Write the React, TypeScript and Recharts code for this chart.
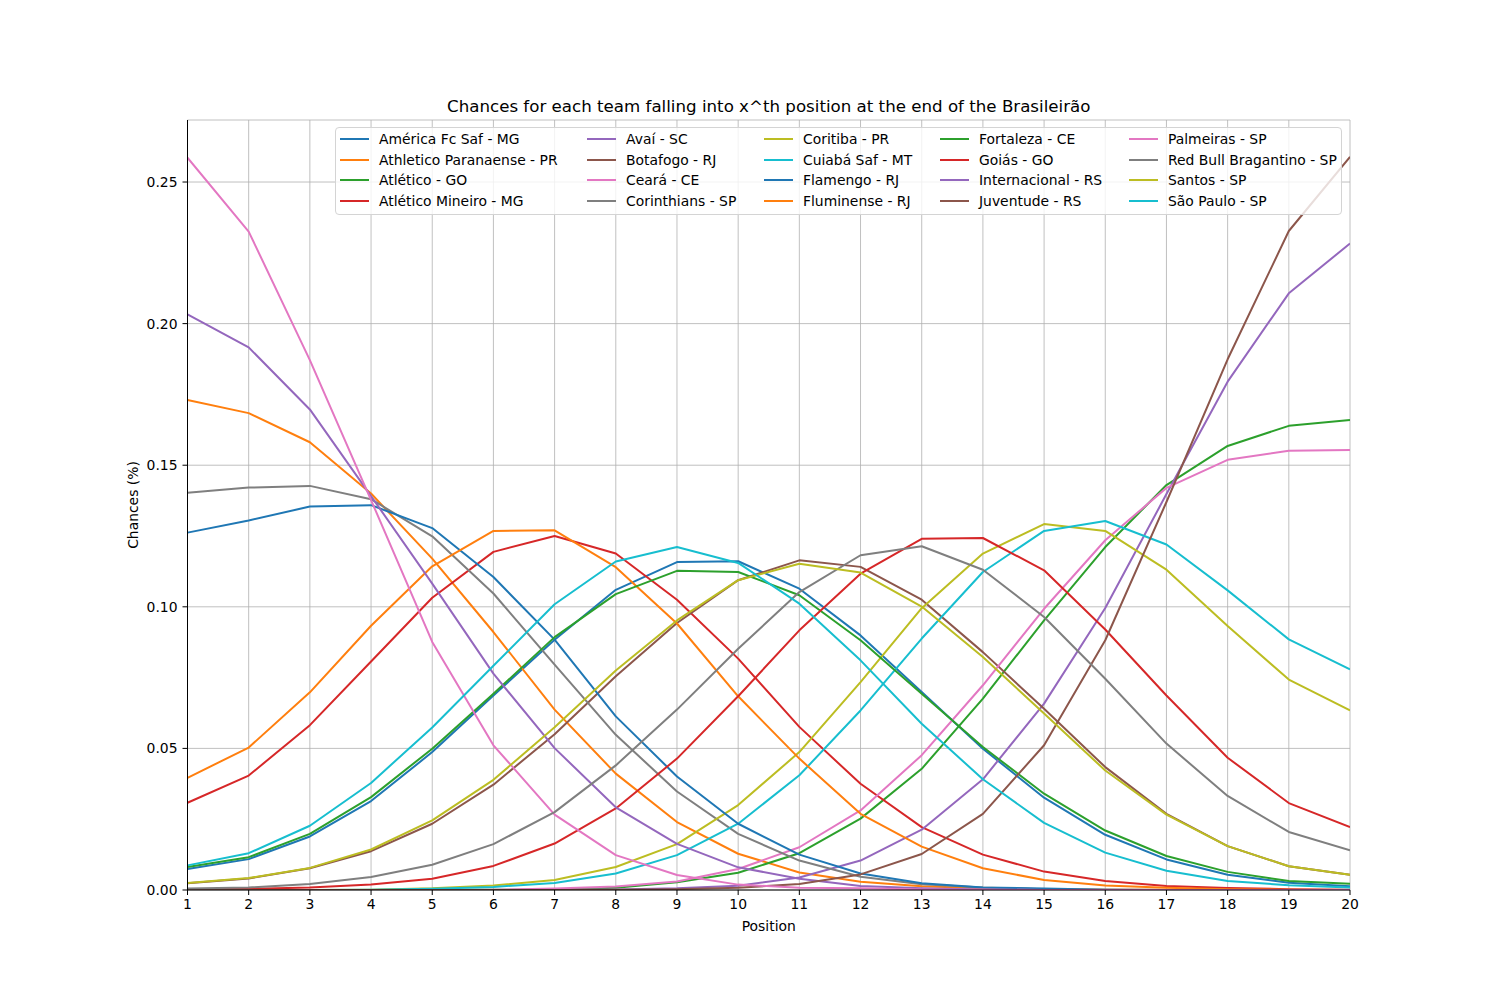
import React from 'react';
import { LineChart, Line, XAxis, YAxis, CartesianGrid, Legend } from 'recharts';

const positions = [1, 2, 3, 4, 5, 6, 7, 8, 9, 10, 11, 12, 13, 14, 15, 16, 17, 18, 19, 20];
const yTicks = [0, 0.05, 0.1, 0.15, 0.2, 0.25];

const teamNames = [
  'América Fc Saf - MG',
  'Athletico Paranaense - PR',
  'Atlético - GO',
  'Atlético Mineiro - MG',
  'Avaí - SC',
  'Botafogo - RJ',
  'Ceará - CE',
  'Corinthians - SP',
  'Coritiba - PR',
  'Cuiabá Saf - MT',
  'Flamengo - RJ',
  'Fluminense - RJ',
  'Fortaleza - CE',
  'Goiás - GO',
  'Internacional - RS',
  'Juventude - RS',
  'Palmeiras - SP',
  'Red Bull Bragantino - SP',
  'Santos - SP',
  'São Paulo - SP',
];

const teamColors = [
  '#1f77b4', '#ff7f0e', '#2ca02c', '#d62728', '#9467bd',
  '#8c564b', '#e377c2', '#7f7f7f', '#bcbd22', '#17becf',
  '#1f77b4', '#ff7f0e', '#2ca02c', '#d62728', '#9467bd',
  '#8c564b', '#e377c2', '#7f7f7f', '#bcbd22', '#17becf',
];

const americaMG = [0.0074, 0.0109, 0.0189, 0.0314, 0.0487, 0.0687, 0.0884, 0.1060, 0.1158, 0.1161, 0.1064, 0.0899, 0.0699, 0.0499, 0.0326, 0.0195, 0.0108, 0.0054, 0.0026, 0.0013];
const athleticoPR = [0.1730, 0.1684, 0.1581, 0.1400, 0.1170, 0.0911, 0.0637, 0.0411, 0.0240, 0.0128, 0.0062, 0.0029, 0.0013, 0.0006, 0.0003, 0.0001, 0.0001, 0.0000, 0.0000, 0.0000];
const atleticoGO = [0.0000, 0.0000, 0.0000, 0.0000, 0.0001, 0.0001, 0.0002, 0.0008, 0.0027, 0.0061, 0.0130, 0.0252, 0.0428, 0.0676, 0.0952, 0.1211, 0.1430, 0.1568, 0.1639, 0.1660];
const atleticoMG = [0.0308, 0.0404, 0.0582, 0.0807, 0.1032, 0.1194, 0.1250, 0.1188, 0.1025, 0.0817, 0.0576, 0.0375, 0.0222, 0.0125, 0.0065, 0.0032, 0.0014, 0.0007, 0.0003, 0.0001];
const avaiSC = [0.0000, 0.0000, 0.0000, 0.0000, 0.0000, 0.0000, 0.0001, 0.0002, 0.0006, 0.0015, 0.0044, 0.0104, 0.0213, 0.0391, 0.0658, 0.0996, 0.1398, 0.1795, 0.2107, 0.2283];
const botafogoRJ = [0.0024, 0.0041, 0.0077, 0.0137, 0.0234, 0.0372, 0.0550, 0.0755, 0.0943, 0.1094, 0.1164, 0.1141, 0.1025, 0.0840, 0.0640, 0.0434, 0.0269, 0.0155, 0.0084, 0.0054];
const cearaCE = [0.0000, 0.0000, 0.0000, 0.0000, 0.0000, 0.0001, 0.0005, 0.0012, 0.0030, 0.0074, 0.0151, 0.0281, 0.0476, 0.0723, 0.0993, 0.1235, 0.1420, 0.1519, 0.1551, 0.1554];
const corinthiansSP = [0.1403, 0.1421, 0.1427, 0.1380, 0.1249, 0.1047, 0.0796, 0.0548, 0.0348, 0.0198, 0.0104, 0.0047, 0.0020, 0.0009, 0.0003, 0.0001, 0.0000, 0.0000, 0.0000, 0.0000];
const coritibaPR = [0.0000, 0.0000, 0.0000, 0.0001, 0.0006, 0.0016, 0.0035, 0.0081, 0.0162, 0.0300, 0.0487, 0.0734, 0.0995, 0.1188, 0.1292, 0.1268, 0.1131, 0.0932, 0.0743, 0.0634];
const cuiabaMT = [0.0000, 0.0000, 0.0000, 0.0001, 0.0004, 0.0011, 0.0025, 0.0058, 0.0123, 0.0234, 0.0405, 0.0634, 0.0888, 0.1123, 0.1268, 0.1303, 0.1220, 0.1058, 0.0885, 0.0779];
const flamengoRJ = [0.1262, 0.1305, 0.1354, 0.1359, 0.1278, 0.1105, 0.0884, 0.0613, 0.0401, 0.0234, 0.0125, 0.0058, 0.0024, 0.0009, 0.0005, 0.0001, 0.0000, 0.0000, 0.0000, 0.0000];
const fluminenseRJ = [0.0396, 0.0503, 0.0698, 0.0933, 0.1143, 0.1268, 0.1270, 0.1140, 0.0941, 0.0684, 0.0464, 0.0269, 0.0153, 0.0077, 0.0035, 0.0016, 0.0008, 0.0003, 0.0001, 0.0000];
const fortalezaCE = [0.0081, 0.0116, 0.0198, 0.0328, 0.0499, 0.0693, 0.0893, 0.1045, 0.1127, 0.1123, 0.1041, 0.0882, 0.0693, 0.0505, 0.0340, 0.0210, 0.0120, 0.0064, 0.0032, 0.0022];
const goiasGO = [0.0003, 0.0004, 0.0009, 0.0019, 0.0040, 0.0085, 0.0164, 0.0288, 0.0464, 0.0684, 0.0917, 0.1117, 0.1240, 0.1243, 0.1129, 0.0920, 0.0687, 0.0467, 0.0307, 0.0222];
const internacionalRS = [0.2033, 0.1916, 0.1697, 0.1391, 0.1082, 0.0764, 0.0501, 0.0292, 0.0163, 0.0080, 0.0040, 0.0014, 0.0006, 0.0002, 0.0000, 0.0000, 0.0000, 0.0000, 0.0000, 0.0000];
const juventudeRS = [0.0000, 0.0000, 0.0000, 0.0000, 0.0000, 0.0000, 0.0000, 0.0001, 0.0003, 0.0008, 0.0021, 0.0055, 0.0127, 0.0269, 0.0511, 0.0882, 0.1370, 0.1874, 0.2327, 0.2589];
const palmeirasSP = [0.2586, 0.2325, 0.1871, 0.1377, 0.0876, 0.0511, 0.0266, 0.0123, 0.0053, 0.0019, 0.0008, 0.0006, 0.0002, 0.0001, 0.0000, 0.0000, 0.0000, 0.0000, 0.0000, 0.0000];
const bragantinoSP = [0.0005, 0.0009, 0.0021, 0.0046, 0.0089, 0.0162, 0.0275, 0.0440, 0.0637, 0.0852, 0.1052, 0.1182, 0.1214, 0.1131, 0.0964, 0.0746, 0.0517, 0.0332, 0.0205, 0.0140];
const santosSP = [0.0025, 0.0042, 0.0078, 0.0143, 0.0246, 0.0389, 0.0575, 0.0775, 0.0952, 0.1094, 0.1152, 0.1121, 0.1001, 0.0823, 0.0623, 0.0422, 0.0266, 0.0155, 0.0084, 0.0054];
const saoPauloSP = [0.0087, 0.0130, 0.0227, 0.0378, 0.0574, 0.0792, 0.1009, 0.1160, 0.1211, 0.1155, 0.1011, 0.0811, 0.0587, 0.0391, 0.0237, 0.0132, 0.0068, 0.0032, 0.0017, 0.0009];

const teamSeries = [
  americaMG, athleticoPR, atleticoGO, atleticoMG, avaiSC,
  botafogoRJ, cearaCE, corinthiansSP, coritibaPR, cuiabaMT,
  flamengoRJ, fluminenseRJ, fortalezaCE, goiasGO, internacionalRS,
  juventudeRS, palmeirasSP, bragantinoSP, santosSP, saoPauloSP,
];

const chartData = positions.map((p, i) => {
  const row: Record<string, number> = { pos: p };
  teamSeries.forEach((s, k) => {
    row['t' + k] = s[i];
  });
  return row;
});

const FONT = '"DejaVu Sans", sans-serif';
const TITLE = 'Chances for each team falling into x^th position at the end of the Brasileirão';

function LegendBox() {
  const colWidths = [247, 177, 176, 189, 212];
  return (
    <div
      style={{
        boxSizing: 'border-box',
        width: 1007,
        height: 88,
        border: '1px solid #d4d4d4',
        borderRadius: 4,
        background: 'rgba(255,255,255,0.8)',
        padding: '1px 0 0 4px',
        display: 'grid',
        gridTemplateColumns: colWidths.map((w) => w + 'px').join(' '),
        gridTemplateRows: 'repeat(4, 20.5px)',
        gridAutoFlow: 'column',
      }}
    >
      {teamNames.map((n, k) => (
        <div key={n} style={{ display: 'flex', alignItems: 'center', whiteSpace: 'nowrap' }}>
          <span
            style={{
              display: 'inline-block',
              width: 29,
              height: 0,
              borderTop: `2px solid ${teamColors[k]}`,
              marginRight: 10,
            }}
          />
          <span style={{ fontFamily: FONT, fontSize: 13.9, color: '#000', lineHeight: '16px' }}>{n}</span>
        </div>
      ))}
    </div>
  );
}

export default function App() {
  const tickStyle = { fill: '#000', fontSize: 13.9, fontFamily: FONT };
  return (
    <div style={{ position: 'absolute', left: 0, top: 0, width: 1500, height: 1000, background: '#fff' }}>
      <LineChart
        width={1500}
        height={1000}
        data={chartData}
        margin={{ top: 120, right: 150, bottom: 80, left: 137.5 }}
      >
        <CartesianGrid stroke="#b0b0b0" strokeWidth={0.8} />
        <XAxis
          dataKey="pos"
          type="number"
          domain={[1, 20]}
          ticks={positions}
          interval={0}
          allowDataOverflow
          height={30}
          tickSize={5}
          tickMargin={4}
          tick={tickStyle}
          tickLine={{ stroke: '#000' }}
          axisLine={{ stroke: '#000' }}
        />
        <XAxis
          xAxisId="top"
          orientation="top"
          type="number"
          domain={[1, 20]}
          height={0}
          tick={false}
          tickLine={false}
          axisLine={{ stroke: '#000' }}
        />
        <YAxis
          type="number"
          domain={[0, 0.2719]}
          ticks={yTicks}
          interval={0}
          allowDataOverflow
          width={50}
          tickSize={5}
          tickMargin={5}
          tick={tickStyle}
          tickFormatter={(v: number) => v.toFixed(2)}
          tickLine={{ stroke: '#000' }}
          axisLine={{ stroke: '#000' }}
        />
        <YAxis
          yAxisId="right"
          orientation="right"
          type="number"
          domain={[0, 0.2719]}
          width={0}
          tick={false}
          tickLine={false}
          axisLine={{ stroke: '#000' }}
        />
        <Legend
          layout="horizontal"
          verticalAlign="middle"
          align="center"
          content={() => <LegendBox />}
          wrapperStyle={{ left: 335, top: 127, width: 1007, height: 88 }}
        />
        {teamNames.map((n, k) => (
          <Line
            key={n}
            type="linear"
            dataKey={'t' + k}
            name={n}
            stroke={teamColors[k]}
            strokeWidth={2}
            strokeLinejoin="round"
            dot={false}
            activeDot={false}
            isAnimationActive={false}
          />
        ))}
      </LineChart>
      <svg
        width={1500}
        height={1000}
        style={{ position: 'absolute', left: 0, top: 0, pointerEvents: 'none' }}
      >
        <text x={768.75} y={111.7} textAnchor="middle" fontSize={16.67} fontFamily={FONT} fill="#000">
          {TITLE}
        </text>
        <text x={768.75} y={931} textAnchor="middle" fontSize={13.9} fontFamily={FONT} fill="#000">
          Position
        </text>
        <text
          transform="translate(137.5,505) rotate(-90)"
          textAnchor="middle"
          fontSize={13.9}
          fontFamily={FONT}
          fill="#000"
        >
          Chances (%)
        </text>
      </svg>
    </div>
  );
}
